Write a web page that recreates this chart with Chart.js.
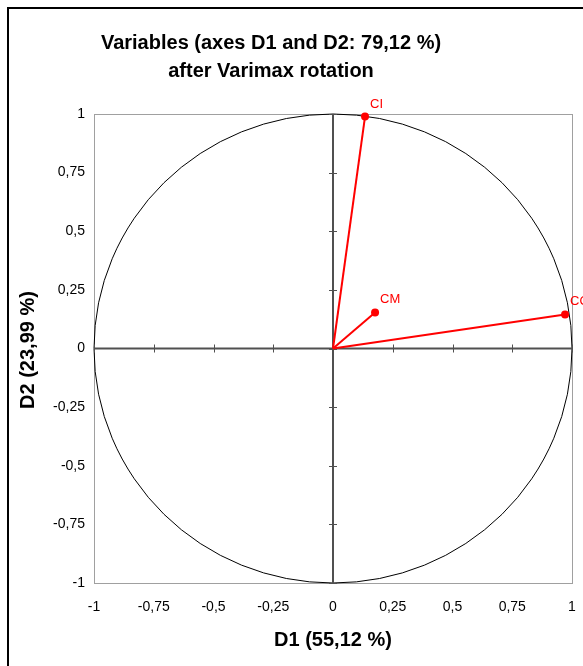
<!DOCTYPE html>
<html>
<head>
<meta charset="utf-8">
<script src="https://cdn.jsdelivr.net/npm/chart.js@4.4.1/dist/chart.umd.min.js"></script>
<style>
  html, body { margin: 0; padding: 0; background: #fff; }
  canvas { display: block; }
</style>
</head>
<body>
<canvas id="circle" width="583" height="666"></canvas>
<script>
var varNames = ["CI", "CM", "CO"];
var d1Values = [0.134, 0.176, 0.971];
var d2Values = [0.989, 0.154, 0.145];
var axisTicks = [-1, -0.75, -0.5, -0.25, 0, 0.25, 0.5, 0.75, 1];
var titleLines = ["Variables (axes D1 and D2: 79,12 %)", "after Varimax rotation"];
var xTitle = "D1 (55,12 %)";
var yTitle = "D2 (23,99 %)";

var FONT = '"Liberation Sans", Arial, sans-serif';

function fmtTick(v) { return String(v).replace(".", ","); }

var datasets = varNames.map(function (name, i) {
  return {
    label: name,
    data: [{ x: 0, y: 0 }, { x: d1Values[i], y: d2Values[i] }],
    showLine: true,
    borderColor: "#ff0000",
    borderWidth: 2,
    pointRadius: [0, 4],
    pointBackgroundColor: "#ff0000",
    pointBorderWidth: 0,
    clip: false
  };
});

var decor = {
  id: "decor",
  beforeDatasetsDraw: function (chart) {
    var ctx = chart.ctx, a = chart.chartArea;
    var xs = chart.scales.x, ys = chart.scales.y;
    ctx.save();
    // outer frame
    ctx.strokeStyle = "#000";
    ctx.lineWidth = 2;
    ctx.strokeRect(8, 8, 700, 700);
    // plot border
    ctx.strokeStyle = "#a0a0a0";
    ctx.lineWidth = 1;
    ctx.strokeRect(a.left + 0.5, a.top + 0.5, a.right - a.left, a.bottom - a.top);
    // unit circle
    var cx = xs.getPixelForValue(0), cy = ys.getPixelForValue(0);
    var rx = xs.getPixelForValue(1) - cx, ry = cy - ys.getPixelForValue(1);
    ctx.strokeStyle = "#000";
    ctx.lineWidth = 1;
    ctx.beginPath();
    ctx.ellipse(cx, cy, rx, ry, 0, 0, Math.PI * 2);
    ctx.stroke();
    // zero axes with cross ticks
    ctx.strokeStyle = "#505050";
    ctx.lineWidth = 2;
    ctx.beginPath();
    ctx.moveTo(a.left, cy); ctx.lineTo(a.right, cy);
    ctx.moveTo(cx, a.top); ctx.lineTo(cx, a.bottom);
    ctx.stroke();
    ctx.lineWidth = 1;
    ctx.beginPath();
    axisTicks.forEach(function (t) {
      var px = Math.round(xs.getPixelForValue(t)) + 0.5;
      var py = Math.round(ys.getPixelForValue(t)) + 0.5;
      ctx.moveTo(px, cy - 4); ctx.lineTo(px, cy + 4);
      ctx.moveTo(cx - 4, py); ctx.lineTo(cx + 4, py);
    });
    ctx.stroke();
    ctx.restore();
  },
  afterDraw: function (chart) {
    var ctx = chart.ctx;
    var xs = chart.scales.x, ys = chart.scales.y;
    ctx.save();
    // point labels
    ctx.fillStyle = "#ff0000";
    ctx.font = "13px " + FONT;
    ctx.textAlign = "left";
    ctx.textBaseline = "alphabetic";
    varNames.forEach(function (name, i) {
      var px = xs.getPixelForValue(d1Values[i]);
      var py = ys.getPixelForValue(d2Values[i]);
      ctx.fillText(name, px + 5, py - 9);
    });
    // titles
    ctx.fillStyle = "#000";
    ctx.font = "bold 20px " + FONT;
    ctx.textAlign = "center";
    ctx.fillText(titleLines[0], 271, 49);
    ctx.fillText(titleLines[1], 271, 77);
    ctx.textBaseline = "middle";
    ctx.fillText(xTitle, 333, 640);
    ctx.translate(28, 350);
    ctx.rotate(-Math.PI / 2);
    ctx.fillText(yTitle, 0, 0);
    ctx.restore();
  }
};

var tickOpts = {
  stepSize: 0.25,
  autoSkip: false,
  maxRotation: 0,
  color: "#000",
  font: { size: 14, family: FONT },
  callback: function (v) { return fmtTick(v); }
};

new Chart(document.getElementById("circle"), {
  type: "scatter",
  data: { datasets: datasets },
  options: {
    responsive: false,
    animation: false,
    devicePixelRatio: 1,
    layout: { padding: { top: 114, left: 0, right: 11, bottom: 0 } },
    plugins: { legend: { display: false }, tooltip: { enabled: false }, title: { display: false } },
    scales: {
      x: {
        type: "linear", min: -1, max: 1,
        ticks: Object.assign({}, tickOpts, { padding: 16 }),
        grid: { display: false, drawTicks: false },
        border: { display: false },
        afterFit: function (s) { s.height = 83; s.paddingLeft = 0; s.paddingRight = 0; }
      },
      y: {
        type: "linear", min: -1, max: 1,
        ticks: Object.assign({}, tickOpts, { padding: 9 }),
        grid: { display: false, drawTicks: false },
        border: { display: false },
        afterFit: function (s) { s.width = 94; s.paddingTop = 0; s.paddingBottom = 0; }
      }
    }
  },
  plugins: [decor]
});
</script>
</body>
</html>
